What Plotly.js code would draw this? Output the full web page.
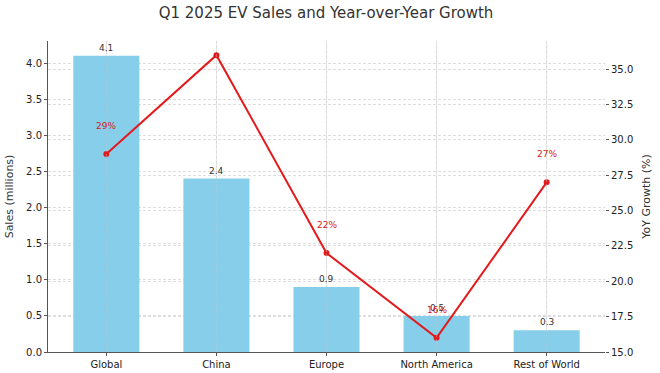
<!DOCTYPE html>
<html><head><meta charset="utf-8">
<script src="https://cdn.plot.ly/plotly-3.0.1.min.js"></script>
<style>html,body{margin:0;padding:0;background:#fff}#c{width:660px;height:373px}</style>
</head><body><div id="c"></div>
<script>
const categories = ["Global", "China", "Europe", "North America", "Rest of World"];
const sales = [4.1, 2.4, 0.9, 0.5, 0.3];
const growth = [29, 36, 22, 16, 27];
const salesLabels = ["4.1", "2.4", "0.9", "0.5", "0.3"];
const growthLabels = ["29%", "36%", "22%", "16%", "27%"];

const font = "DejaVu Sans, sans-serif";
const xs = categories.map((_, i) => i);

const bars = {
  type: "bar", x: xs, y: sales, width: 0.6,
  marker: {color: "#87CEEB"}, hoverinfo: "skip", showlegend: false
};
const line = {
  type: "scatter", mode: "lines+markers", x: xs, y: growth, yaxis: "y2",
  line: {color: "#e31a1c", width: 2}, marker: {color: "#e31a1c", size: 6},
  showlegend: false, cliponaxis: false
};

const annotations = [];
sales.forEach((v, i) => annotations.push({
  x: xs[i], y: v, xref: "x", yref: "y", text: salesLabels[i], showarrow: false,
  yanchor: "bottom", yshift: 1, font: {family: font, size: 9, color: "#333"}
}));
growth.forEach((v, i) => annotations.push({
  x: xs[i], y: v + 2, xref: "x", yref: "y2", text: growthLabels[i], showarrow: false,
  yanchor: "middle", font: {family: font, size: 9, color: "#d62020"}
}));

// vertical grid drawn over the bars, as in the reference
const shapes = xs.map(x => ({
  type: "line", xref: "x", yref: "paper", x0: x, x1: x, y0: 0, y1: 1, layer: "above",
  line: {color: "rgba(200,200,200,0.55)", width: 0.8, dash: "3px,2px"}
}));

const gridStyle = {showgrid: true, gridcolor: "#d6d6d6", griddash: "3px,2px", gridwidth: 0.8};

const layout = {
  width: 660, height: 373,
  margin: {l: 48, r: 55, t: 41, b: 21},
  paper_bgcolor: "#fff", plot_bgcolor: "#fff",
  font: {family: font, color: "#333", size: 10},
  title: {text: "Q1 2025 EV Sales and Year-over-Year Growth", x: 0.494, xanchor: "center", y: 0.965, yanchor: "middle",
          font: {family: font, size: 15, color: "#333"}},
  xaxis: Object.assign({
    range: [-0.53, 4.53], tickmode: "array", tickvals: xs, ticktext: categories,
    ticks: "outside", ticklen: 3, tickcolor: "#555", ticklabelstandoff: 0,
    showline: true, linecolor: "#555", linewidth: 1, zeroline: false,
    tickfont: {family: font, size: 10, color: "#222"}
  }, gridStyle),
  yaxis: Object.assign({
    range: [0, 4.305], dtick: 0.5, tickformat: ".1f",
    ticks: "outside", ticklen: 3, tickcolor: "#555",
    showline: true, linecolor: "#555", linewidth: 1, zeroline: false,
    title: {text: "Sales (millions)", standoff: 10, font: {family: font, size: 11, color: "#333"}},
    tickfont: {family: font, size: 10, color: "#222"}
  }, gridStyle),
  yaxis2: Object.assign({
    overlaying: "y", side: "right", range: [15, 37], dtick: 2.5, tickformat: ".1f",
    ticks: "outside", ticklen: 3, tickcolor: "#555",
    showline: false, zeroline: false,
    title: {text: "YoY Growth (%)", standoff: 10, font: {family: font, size: 11, color: "#333"}},
    tickfont: {family: font, size: 10, color: "#222"}
  }, gridStyle),
  annotations: annotations,
  shapes: shapes
};

Plotly.newPlot("c", [bars, line], layout, {displayModeBar: false, staticPlot: true});
</script></body></html>
